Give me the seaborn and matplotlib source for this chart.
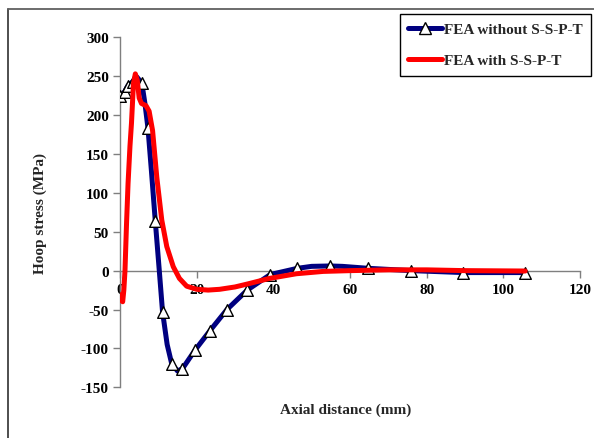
import matplotlib
matplotlib.use("Agg")
import matplotlib.pyplot as plt
from matplotlib.lines import Line2D
import seaborn as sns
import pandas as pd

# ---- data ----
blue_marker_x = [0.0, 1.2, 2.1, 3.3, 5.7, 7.3, 9.2, 11.1, 13.5, 16.3, 19.6, 23.5,
                 27.9, 33.2, 39.2, 46.3, 54.8, 64.7, 76.0, 89.6, 105.7]
blue_marker_y = [224, 230, 238, 243, 241, 183, 64, -53, -120, -126, -102, -77,
                 -50, -25, -5, 3, 6, 3, 0, -2.5, -2.5]

blue_line_x = [0.0, 1.2, 2.1, 3.3, 4.4, 5.7, 6.5, 7.3, 8.2, 9.2, 10.2, 11.1, 12.3,
               13.5, 15.0, 16.3, 19.6, 23.5, 27.9, 33.2, 39.2, 46.3, 50.0, 54.8,
               58.0, 64.7, 76.0, 89.6, 105.7]
blue_line_y = [224, 230, 238, 243, 249, 241, 215, 183, 128, 64, 3, -53, -95,
               -120, -129, -126, -102, -77, -50, -25, -5, 3, 5.5, 6,
               5.5, 3, 0, -2.5, -2.5]

red_x = [-0.3, 0.3, 0.7, 1.0, 1.3, 1.7, 2.1, 2.6, 3.0, 3.5, 4.0, 4.5, 5.0, 5.6,
         6.8, 7.6, 8.5, 9.6, 10.9, 12.2, 13.9, 15.5, 17.4, 20.0, 23.0, 26.0,
         30.0, 33.4, 39.0, 46.0, 53.0, 60.0, 70.0, 80.0, 90.0, 105.7]
red_y = [-30, -38, -40, -25, 0, 60, 112, 160, 190, 240, 253, 245, 222, 215,
         212, 205, 180, 120, 65, 31, 5, -10, -20, -24, -25, -24,
         -21, -17, -10, -4, -1, 0, 1, 1, 0, -0.5]

series_names = ["FEA without S-S-P-T", "FEA with S-S-P-T"]
x_ticks = [0, 20, 40, 60, 80, 100, 120]
y_ticks = [-150, -100, -50, 0, 50, 100, 150, 200, 250, 300]

BLUE = "#000080"
RED = "#FF0000"

sns.set_theme(style="white")
plt.rcParams["font.family"] = ["Liberation Serif", "DejaVu Serif"]
plt.rcParams["font.weight"] = "bold"

fig = plt.figure(figsize=(5.94, 4.39), dpi=100)
ax = fig.add_axes([120 / 594, 1 - 388.3 / 439, (580 - 120) / 594, (388.3 - 38.3) / 439])

blue_line = pd.DataFrame({"x": blue_line_x, "y": blue_line_y})
blue_pts = pd.DataFrame({"x": blue_marker_x, "y": blue_marker_y})
red_line = pd.DataFrame({"x": red_x, "y": red_y})

sns.lineplot(data=blue_line, x="x", y="y", ax=ax, color=BLUE, linewidth=3.6,
             estimator=None, sort=False, zorder=3)
sns.scatterplot(data=blue_pts, x="x", y="y", ax=ax, marker="^", s=70,
                color="white", edgecolor="black", linewidth=1.0, zorder=4)
sns.lineplot(data=red_line, x="x", y="y", ax=ax, color=RED, linewidth=3.6,
             estimator=None, sort=False, zorder=5)

ax.set_xlim(0, 120)
ax.set_ylim(-150, 300)
ax.set_xticks(x_ticks)
ax.set_yticks(y_ticks)
ax.set_xticklabels([str(t) for t in x_ticks], fontsize=11, fontweight="bold")
ax.set_yticklabels([str(t) for t in y_ticks], fontsize=11, fontweight="bold")

for s in ["top", "right"]:
    ax.spines[s].set_visible(False)
ax.spines["bottom"].set_position(("data", 0))
ax.spines["left"].set_position(("data", 0))
for s in ["bottom", "left"]:
    ax.spines[s].set_color("#7f7f7f")
    ax.spines[s].set_linewidth(1.0)
ax.tick_params(axis="both", direction="out", length=5, width=1.0,
               color="#7f7f7f", labelcolor="black", pad=3)
ax.tick_params(axis="x", bottom=True, pad=4)
ax.tick_params(axis="y", left=True)

ax.set_xlabel("")
ax.set_ylabel("")
fig.text(346 / 594, 1 - 410 / 439, "Axial distance (mm)", ha="center", va="center",
         fontsize=11, fontweight="bold")
fig.text(40 / 594, 1 - 214 / 439, "Hoop stress (MPa)", ha="center", va="center",
         rotation=90, fontsize=11, fontweight="bold")

handles = [
    Line2D([], [], color=BLUE, linewidth=3.6, marker="^", markersize=8,
           markerfacecolor="white", markeredgecolor="black", markeredgewidth=1.0),
    Line2D([], [], color=RED, linewidth=3.6),
]
leg = ax.legend(handles, series_names, loc="upper right",
                bbox_to_anchor=(591 / 594, 1 - 15 / 439),
                bbox_transform=fig.transFigure, frameon=True, fancybox=False,
                framealpha=1, edgecolor="black", fontsize=11, handlelength=2.2,
                handletextpad=0.15, borderpad=0.55, labelspacing=1.15,
                borderaxespad=0)
leg.get_frame().set_linewidth(1.0)
for t in leg.get_texts():
    t.set_fontweight("bold")

# outer chart-area border (left and top edges visible)
fig.add_artist(Line2D([7.5 / 594, 7.5 / 594], [0, 1 - 10 / 439],
                      transform=fig.transFigure, color="#404040", linewidth=1.3))
fig.add_artist(Line2D([7.5 / 594, 1], [1 - 10 / 439, 1 - 10 / 439],
                      transform=fig.transFigure, color="#606060", linewidth=1.3))

fig.savefig("out.png", dpi=100)
